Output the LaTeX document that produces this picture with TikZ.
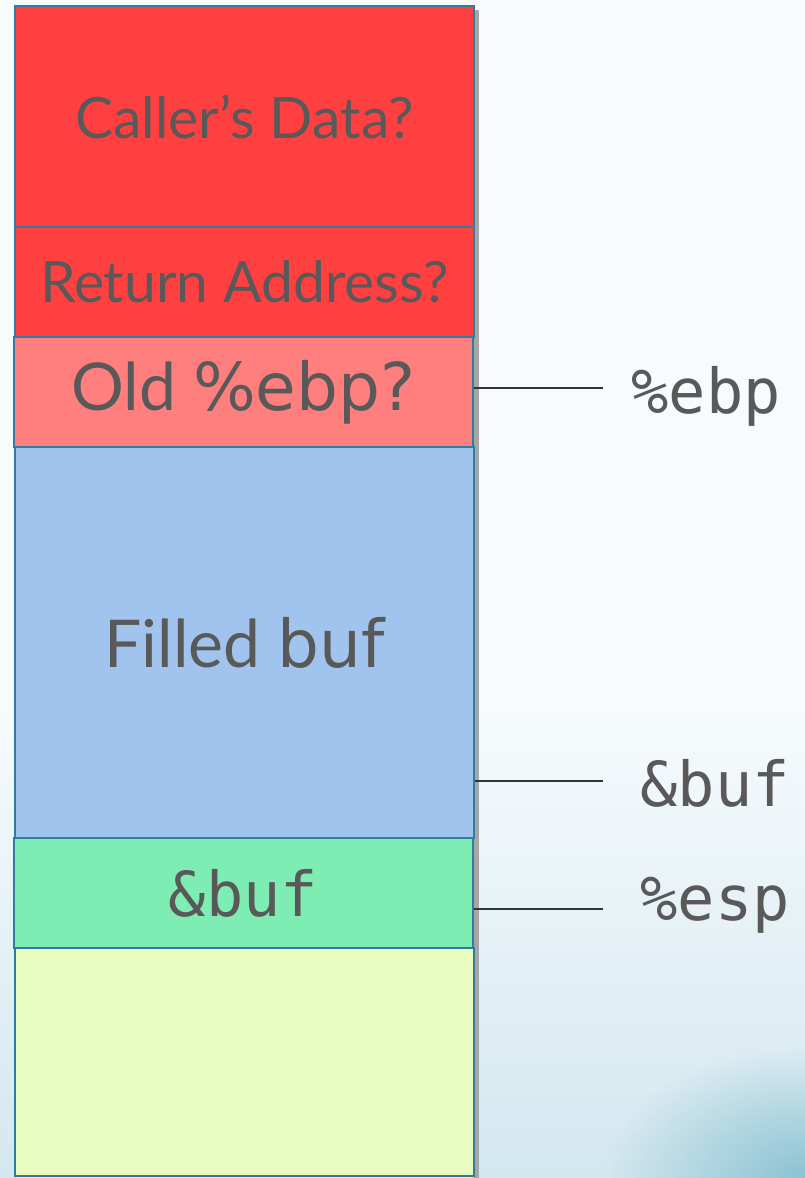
\documentclass[tikz,border=0pt]{standalone}
\usepackage{fontspec}
\setmainfont{Lato}
\newfontfamily\regfont{DejaVu Sans}
\newfontfamily\monofont{DejaVu Sans Mono}
\usetikzlibrary{fadings}
\tikzfading[name=myfade, inner color=transparent!0, outer color=transparent!100]
\definecolor{bgc}{HTML}{F7FBFD}
\definecolor{bgb}{HTML}{D3E7EF}
\definecolor{streak}{HTML}{8CC3D3}
\definecolor{redc}{HTML}{FF4040}
\definecolor{pinkc}{HTML}{FF7F7F}
\definecolor{bluec}{HTML}{A0C4EE}
\definecolor{greenc}{HTML}{7EEDB4}
\definecolor{yellowc}{HTML}{E9FCC0}
\definecolor{edgec}{HTML}{2E7CA0}
\definecolor{txtc}{HTML}{595959}
\definecolor{linec}{HTML}{333333}
\tikzset{
  cell/.style={draw=edgec, line width=2.2pt, minimum width=459pt, inner sep=0pt, text=txtc, font=\fontsize{57}{60}\selectfont},
  reglabel/.style={text=txtc, inner sep=0pt, font=\monofont\fontsize{62}{66}\selectfont},
  pointer/.style={draw=linec, line width=1.2pt}
}
\begin{document}
\begin{tikzpicture}[x=1pt,y=-1pt]
\useasboundingbox (0,0) rectangle (805,1178);
\fill[bgc] (0,0) rectangle (805,1178);
\shade[top color=bgc, bottom color=bgb] (0,700) rectangle (805,1178);
\fill[streak, path fading=myfade] (805,1178) ellipse (200 and 130);
% shadow
\fill[gray!70] (474,10) rectangle (478.5,1178);
% stack cells
\node[cell, fill=redc, minimum height=221pt] (caller) at (244.5,116.5) {Caller’s Data?};
\node[cell, fill=redc, minimum height=110pt] (ret) at (244.5,282) {Return Address?};
\node[cell, fill=pinkc, minimum height=110pt, font=\fontsize{66}{70}\selectfont] (oldebp) at (243.5,392) {Old {\regfont\%ebp?}};
\node[cell, fill=bluec, minimum height=391pt, font=\fontsize{66}{70}\selectfont] (filled) at (244.5,642.5) {Filled {\regfont buf}};
\node[cell, fill=greenc, minimum height=110pt, font=\monofont\fontsize{62}{66}\selectfont] (argbuf) at (243.5,893) {\&buf};
\node[cell, fill=yellowc, minimum height=228pt] (below) at (244.5,1062) {};
% register labels
\node[reglabel] (ebp) at (706,396) {\%ebp};
\node[reglabel] (bufp) at (715,783) {\&buf};
\node[reglabel] (esp) at (715,905) {\%esp};
\coordinate (e1) at (603,388);
\coordinate (e2) at (603,781);
\coordinate (e3) at (603,909);
\draw[pointer] (oldebp.east |- e1) -- (e1);
\draw[pointer] (filled.east |- e2) -- (e2);
\draw[pointer] (argbuf.east |- e3) -- (e3);
\end{tikzpicture}
\end{document}
